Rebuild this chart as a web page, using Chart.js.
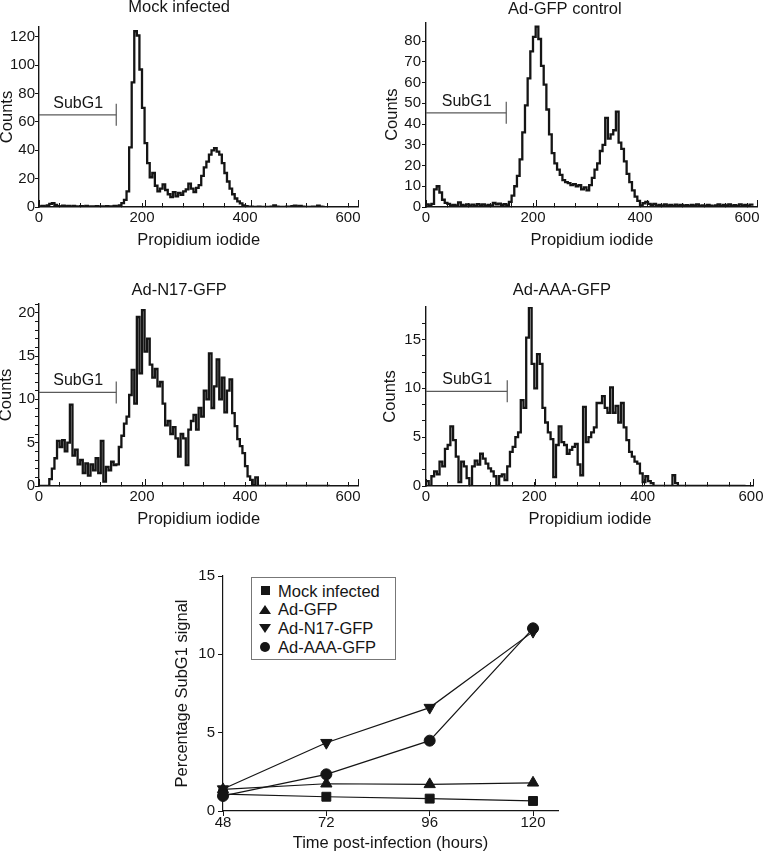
<!DOCTYPE html>
<html>
<head>
<meta charset="utf-8">
<script src="https://cdn.jsdelivr.net/npm/chart.js@4.4.1/dist/chart.umd.min.js"></script>
<style>
  html, body { margin: 0; padding: 0; background: #fff; }
  body { position: relative; width: 764px; height: 853px; overflow: hidden; font-family: 'Liberation Sans', Arial, sans-serif; color: #151515; }
  canvas { position: absolute; }
  #legend { position: absolute; left: 251px; top: 577px; width: 143px; height: 81px; border: 1px solid #777; background: #fff; font-size: 16.5px; }
  #legend .row { position: absolute; left: 0; height: 18px; line-height: 18px; padding-left: 26px; white-space: nowrap; }
  #legend .mk { position: absolute; }
  .sq { left: 8.5px; top: 4.5px; width: 9px; height: 9px; background: #151515; }
  .up { left: 7px; top: 4.5px; width: 0; height: 0; border-left: 6px solid transparent; border-right: 6px solid transparent; border-bottom: 9px solid #151515; }
  .dn { left: 7px; top: 4.5px; width: 0; height: 0; border-left: 6px solid transparent; border-right: 6px solid transparent; border-top: 9px solid #151515; }
  .ci { left: 8px; top: 4px; width: 10px; height: 10px; border-radius: 50%; background: #151515; }
</style>
</head>
<body>
<canvas id="h1" width="376" height="255" style="left:0;top:0"></canvas>
<canvas id="h2" width="428" height="255" style="left:372px;top:0"></canvas>
<canvas id="h3" width="372" height="262" style="left:0;top:272px"></canvas>
<canvas id="h4" width="414" height="262" style="left:370px;top:272px"></canvas>
<canvas id="timecourse" width="420" height="293" style="left:160px;top:560px"></canvas>
<div id="legend"></div>

<script>
// DNA content histograms, counts per 5-channel bin of propidium iodide (bin starts at 0)
const BIN = 5;
const mockCounts = [
  0.5, 0.8, 0.4, 1.2, 2.2, 2.8, 1.4, 0.6, 0.3, 0.9,
  0.4, 0.7, 0.2, 0.8, 0.5, 0.2, 0.6, 0.3, 0.7, 0.2,
  0.5, 0.3, 0.6, 0.2, 0.5, 0.3, 0.6, 0.2, 0.4, 0.7,
  0.5, 1.2, 2.8, 5, 11, 42, 88, 124, 121, 97,
  70, 45, 31, 21, 24, 15, 11, 13, 16, 12,
  9, 7, 10.5, 7.5, 10, 8.5, 11, 12.5, 16.5, 13,
  10.5, 13.5, 15.5, 22, 28, 32, 37, 40, 41.5, 39,
  37, 31, 24, 18, 13, 9, 6, 4, 2.5, 1.2,
  0.6, 0.2, 0.3, 0.1, 0, 0.2, 0, 0.1, 0, 0,
  0.2, 1.2, 0.3, 0, 0.1, 0, 0.2, 0, 0.6, 0.9,
  0.5, 0.8, 0.2, 0, 0.1, 0, 0.2, 0, 0.9, 0.3,
  0, 0
];
const gfpCounts = [
  1.2, 0.6, 1.5, 8.5, 10, 7, 3.5, 2, 1.5, 0.8,
  1, 0.6, 2.2, 1, 0.7, 1.3, 0.6, 1.1, 0.5, 1.4,
  0.8, 1.2, 0.5, 1, 0.7, 2, 1.3, 1.6, 0.9, 1.4,
  0.8, 2.5, 5.5, 10, 15, 23, 36, 49, 62, 75,
  82, 87, 81, 68, 59, 47, 35, 26, 21, 18,
  15.5, 13, 12, 11.5, 10.5, 11, 10, 10.5, 8.5, 9.5,
  8, 10.5, 14, 18, 21, 27, 30, 43, 33, 35,
  37, 46, 31, 28, 22, 16, 12, 8, 5, 3,
  0.8, 1.8, 2.5, 1.5, 1, 1.5, 0.6, 1, 0.5, 1.2,
  0.7, 1, 0.4, 1.1, 0.6, 1, 0.5, 0.9, 0.4, 1,
  0.6, 1.2, 0.5, 0.8, 0.4, 1, 0.6, 0.3, 0.8, 1.2,
  0.5, 1, 0.7, 1.2, 0.5, 0.9, 0.4, 1.3, 0.6, 1,
  0.5, 1.1, 0.6
];
const n17Counts = [
  0, 0, 0, 0, 0.8, 2, 3.2, 5.2, 4.5, 5.3,
  4, 5, 9.4, 3.5, 4.2, 2.5, 3, 1.5, 2.6, 1.2,
  2.5, 1.8, 3.2, 1.5, 5.2, 0.5, 2.2, 1.8, 2.8, 2.4,
  2.5, 4.5, 5.8, 7.2, 8, 10.5, 13.4, 9.5, 19.5, 13,
  20.3, 15.5, 17, 14, 12.5, 13.5, 11.5, 12, 9.5, 7,
  7.5, 6, 6.8, 5.5, 3.4, 6, 5.5, 2.4, 6.5, 7.5,
  8.2, 6.5, 9, 8, 11, 10, 15.3, 9, 11.5, 14.6,
  10, 12.5, 8.5, 11, 12.3, 8.4, 6.9, 5.4, 4.6, 3.8,
  2.3, 1.1, 0.7, 0.1, 1, 0, 0, 0, 0, 0,
  0, 0, 0, 0, 0, 0, 0, 0, 0, 0,
  0, 0, 0, 0, 0, 0, 0, 0, 0, 0,
  0, 0, 0, 0
];
const aaaCounts = [
  0.5, 0, 1, 1.5, 1.2, 2.5, 2, 3.8, 4.2, 6.1,
  4.7, 3, 0.4, 2.5, 2, 0.8, 0, 2, 2.6, 2.2,
  3.3, 2.8, 2.3, 1.8, 1.5, 1, 0, 1, 1.2, 0.6,
  2, 3.5, 4, 5, 5.5, 8.8, 8, 15.2, 18.3, 12.5,
  10, 13.5, 12.5, 8, 6.5, 5.5, 4.8, 0.9, 4.2, 6.1,
  4.5, 4.2, 3.3, 3.7, 4, 4.3, 2.2, 1.1, 8.1, 4.5,
  5, 5.5, 6, 8.5, 8.5, 9.2, 8, 7.5, 10.1, 7.5,
  8.2, 6.5, 8.5, 6, 4.7, 3.5, 3, 2.5, 2.3, 1.3,
  0.4, 1, 0.5, 0.3, 0, 0, 0, 0, 0, 0,
  0, 1.1, 0.3, 0, 0, 0, 0, 0, 0, 0,
  0, 0, 0, 0, 0, 0, 0, 0, 0, 0,
  0, 0, 0, 0, 0, 0, 0, 0, 0
];

const histTitles = ['Mock infected', 'Ad-GFP control', 'Ad-N17-GFP', 'Ad-AAA-GFP'];
const histCounts = [mockCounts, gfpCounts, n17Counts, aaaCounts];
const gateRange = [0, 150];            // SubG1 gate in PI channels
const gateLevels = [65, 45.4, 10.8, 9.7];
const xAxisMax = [620, 620, 620, 605];
const yAxisMax = [127, 89, 21, 18.33];
const yTickStep = [20, 10, 1, 5 / 3];
const yLabelEvery = [20, 10, 5, 5];

// time course of the SubG1 fraction
const hours = [48, 72, 96, 120];
const seriesNames = ['Mock infected', 'Ad-GFP', 'Ad-N17-GFP', 'Ad-AAA-GFP'];
const mockSubG1 = [1.08, 0.91, 0.79, 0.64];
const gfpSubG1 = [1.38, 1.74, 1.7, 1.8];
const n17SubG1 = [1.4, 4.36, 6.6, 11.45];
const aaaSubG1 = [0.96, 2.34, 4.49, 11.66];

const ink = '#151515';
Chart.defaults.font.family = "'Liberation Sans', Arial, sans-serif";
Chart.defaults.color = ink;

// canvas layout per histogram panel
const panels = [
  { id: 'h1', yAxisWidth: 39, padRight: 17.7, titlePad: { top: -2.4, bottom: 9.6 }, yTitlePad: -2.9, yTickPad: 0 },
  { id: 'h2', yAxisWidth: 54, padRight: 42.3, titlePad: { top: -0.4, bottom: 3 }, yTitlePad: 10.6, yTickPad: 1 },
  { id: 'h3', yAxisWidth: 39, padRight: 13.7, titlePad: { top: 8.6, bottom: 3.6 }, yTitlePad: -3.2, yTickPad: 0 },
  { id: 'h4', yAxisWidth: 56, padRight: 30.3, titlePad: { top: 8.6, bottom: 6.6 }, yTitlePad: 10.1, yTickPad: 1 }
];

const onStep = (v, step) => Math.abs(v / step - Math.round(v / step)) < 1e-6;

// writes the gate name above the SubG1 marker
const gateLabel = {
  id: 'gateLabel',
  afterDatasetsDraw(chart, args, opts) {
    const { ctx, scales } = chart;
    ctx.save();
    ctx.font = "16px 'Liberation Sans', Arial, sans-serif";
    ctx.fillStyle = ink;
    ctx.textAlign = 'center';
    ctx.textBaseline = 'middle';
    ctx.fillText(opts.text, scales.x.getPixelForValue(opts.at), scales.y.getPixelForValue(opts.level) - 11.5);
    ctx.restore();
  }
};

panels.forEach((p, k) => {
  const counts = histCounts[k];
  const gate = gateLevels[k];
  new Chart(document.getElementById(p.id), {
    type: 'line',
    data: {
      datasets: [
        {
          data: counts.map((c, i) => ({ x: i * BIN, y: c })),
          stepped: true,
          borderColor: ink,
          borderWidth: 2.3,
          pointRadius: 0
        },
        {
          data: [{ x: gateRange[0], y: gate }, { x: gateRange[1], y: gate }],
          borderColor: '#5a5a5a',
          borderWidth: 1.2,
          pointStyle: 'line',
          pointRotation: 90,
          pointRadius: [0, 11],
          pointBorderColor: '#5a5a5a',
          pointBorderWidth: 1.2
        }
      ]
    },
    options: {
      responsive: false,
      animation: false,
      events: [],
      layout: { padding: { left: 0, right: p.padRight, top: 0, bottom: 0 } },
      plugins: {
        legend: { display: false },
        tooltip: { enabled: false },
        title: {
          display: true, text: histTitles[k], color: ink,
          font: { size: 16.5, weight: 'normal' }, padding: p.titlePad
        },
        gateLabel: { text: 'SubG1', at: 76, level: gate }
      },
      scales: {
        x: {
          type: 'linear', min: 0, max: xAxisMax[k], weight: 1,
          border: { display: true, color: ink, width: 1.4 },
          grid: { drawOnChartArea: false, tickLength: -4, color: ink, tickWidth: 1 },
          ticks: {
            stepSize: 40, includeBounds: false, autoSkip: false, maxRotation: 0,
            padding: 6, color: ink, font: { size: 15 },
            callback: v => onStep(v, 200) ? v : ''
          },
          title: { display: true, text: 'Propidium iodide', color: ink, font: { size: 16.5 }, padding: { top: 0, bottom: 5 } },
          afterFit: s => { s.height = 48; }
        },
        // longer marks at the labelled channels
        x2: {
          type: 'linear', position: 'bottom', min: 0, max: xAxisMax[k], weight: 0,
          border: { display: false },
          grid: { drawOnChartArea: false, tickLength: -7, color: ink, tickWidth: 1 },
          ticks: { stepSize: 200, includeBounds: false, display: false },
          afterFit: s => { s.height = 0; }
        },
        y: {
          type: 'linear', min: 0, max: yAxisMax[k],
          border: { display: true, color: ink, width: 1.4 },
          grid: { drawOnChartArea: false, tickLength: 4, color: ink, tickWidth: 1 },
          ticks: {
            stepSize: yTickStep[k], includeBounds: false, autoSkip: false,
            padding: p.yTickPad, color: ink, font: { size: 15 },
            callback: v => onStep(v, yLabelEvery[k]) ? Math.round(v) : ''
          },
          title: { display: true, text: 'Counts', color: ink, font: { size: 16.5 }, padding: { top: p.yTitlePad, bottom: 0 } },
          afterFit: s => { s.width = p.yAxisWidth; }
        }
      }
    },
    plugins: [gateLabel]
  });
});

// SubG1 time course
const subG1Series = [mockSubG1, gfpSubG1, n17SubG1, aaaSubG1];
const markers = [
  { pointStyle: 'rect', radius: 6.3, rotation: 0, order: 1, css: 'sq' },
  { pointStyle: 'triangle', radius: 6.5, rotation: 0, order: 1, css: 'up' },
  { pointStyle: 'triangle', radius: 6.5, rotation: 180, order: 1, css: 'dn' },
  { pointStyle: 'circle', radius: 5.5, rotation: 0, order: 0, css: 'ci' }
];

new Chart(document.getElementById('timecourse'), {
  type: 'line',
  data: {
    datasets: subG1Series.map((vals, i) => ({
      label: seriesNames[i],
      data: hours.map((h, j) => ({ x: h, y: vals[j] })),
      borderColor: ink,
      borderWidth: 1.2,
      pointStyle: markers[i].pointStyle,
      pointRadius: markers[i].radius,
      pointRotation: markers[i].rotation,
      pointBackgroundColor: ink,
      pointBorderColor: ink,
      pointBorderWidth: 1,
      order: markers[i].order,
      clip: false
    }))
  },
  options: {
    responsive: false,
    animation: false,
    events: [],
    layout: { padding: { left: 0, right: 22, top: 16, bottom: 0 } },
    plugins: { legend: { display: false }, tooltip: { enabled: false } },
    scales: {
      x: {
        type: 'linear', min: 48, max: 125.8,
        border: { display: true, color: ink, width: 1.2 },
        grid: { drawOnChartArea: false, tickLength: 5, color: ink },
        ticks: { stepSize: 24, includeBounds: false, maxRotation: 0, padding: -2, color: ink, font: { size: 15 } },
        title: { display: true, text: 'Time post-infection (hours)', color: ink, font: { size: 16.5 }, padding: { top: 0, bottom: 0 } },
        afterFit: s => { s.height = 42; }
      },
      y: {
        type: 'linear', min: 0, max: 15,
        border: { display: true, color: ink, width: 1.2 },
        grid: { drawOnChartArea: false, tickLength: 5, color: ink },
        ticks: { stepSize: 5, includeBounds: false, padding: 3, color: ink, font: { size: 15 } },
        title: { display: true, text: 'Percentage SubG1 signal', color: ink, font: { size: 16.5 }, padding: { top: 12.6, bottom: 0 } },
        afterFit: s => { s.width = 63; }
      }
    }
  }
});

// legend box
const legend = document.getElementById('legend');
seriesNames.forEach((name, i) => {
  const row = document.createElement('div');
  row.className = 'row';
  row.style.top = (3.7 + i * 18.7) + 'px';
  const mk = document.createElement('span');
  mk.className = 'mk ' + markers[i].css;
  row.appendChild(mk);
  row.appendChild(document.createTextNode(name));
  legend.appendChild(row);
});
</script>
</body>
</html>
